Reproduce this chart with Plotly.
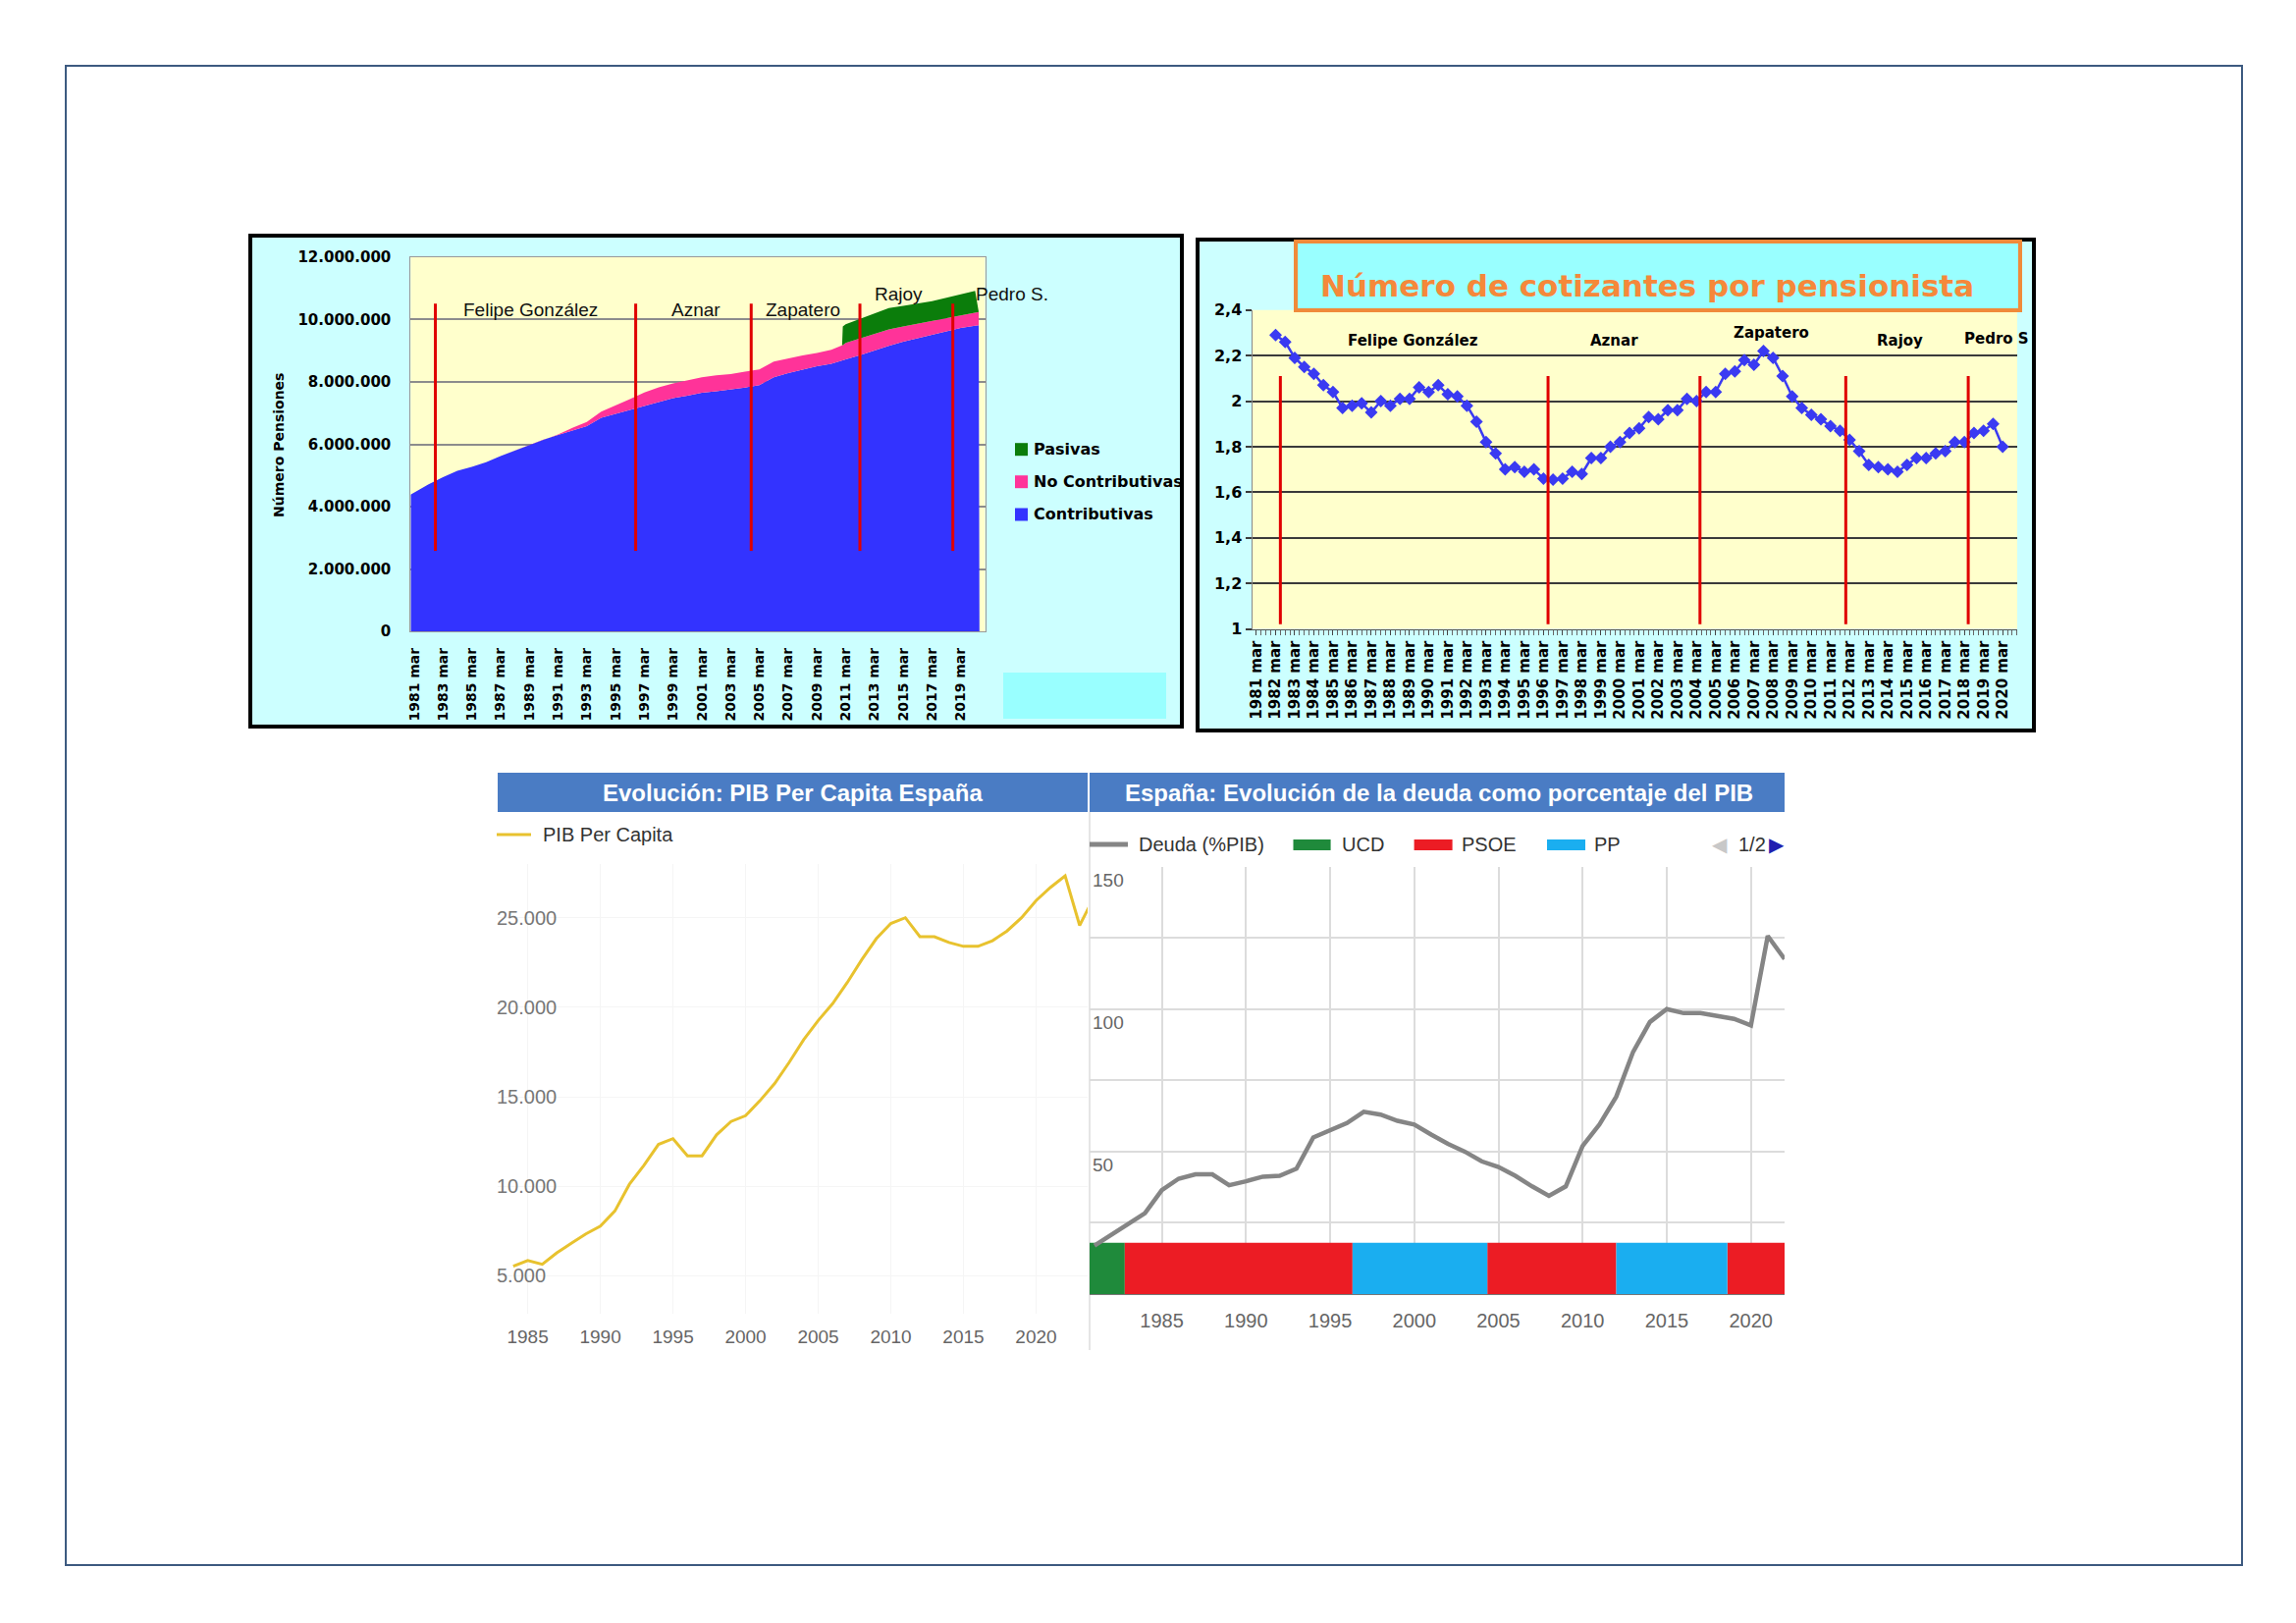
import plotly.graph_objects as go

W, H = 2339, 1653


def px(x):
    return x / W


def py(y):
    return 1 - y / H


# --- Numero de pensiones (millones)
anos_pens = [1980.75, 1982, 1983, 1984, 1985, 1986, 1987, 1988, 1989, 1990,
             1991, 1992, 1993, 1994, 1995, 1996, 1997, 1998, 1999, 2000,
             2001, 2002, 2003, 2004, 2005, 2006, 2007, 2008, 2009, 2010,
             2010.75, 2010.8, 2011, 2012, 2013, 2014, 2015, 2016, 2017, 2018,
             2019, 2020, 2020.25, 2020.3]
contributivas = [4.39, 4.72, 4.95, 5.15, 5.28, 5.43, 5.62, 5.80, 5.98, 6.15,
                 6.30, 6.45, 6.58, 6.85, 6.98, 7.10, 7.24, 7.37, 7.48, 7.56,
                 7.65, 7.70, 7.75, 7.82, 7.90, 8.15, 8.28, 8.40, 8.50, 8.58,
                 8.67, 8.68, 8.72, 8.86, 9.02, 9.16, 9.29, 9.41, 9.51, 9.62,
                 9.73, 9.80, 9.82, 0]
no_contributivas = [0, 0, 0, 0, 0, 0, 0, 0, 0, 0,
                    0.02, 0.08, 0.14, 0.20, 0.26, 0.35, 0.42, 0.46, 0.47, 0.49,
                    0.50, 0.51, 0.50, 0.51, 0.50, 0.50, 0.48, 0.45, 0.43, 0.45,
                    0.50, 0.50, 0.53, 0.53, 0.53, 0.52, 0.49, 0.46, 0.44, 0.42,
                    0.42, 0.42, 0.42, 0]
pasivas = [0, 0, 0, 0, 0, 0, 0, 0, 0, 0,
           0, 0, 0, 0, 0, 0, 0, 0, 0, 0,
           0, 0, 0, 0, 0, 0, 0, 0, 0, 0,
           0, 0.60, 0.60, 0.63, 0.65, 0.69, 0.66, 0.65, 0.64, 0.66,
           0.67, 0.70, 0, 0]
ticks_pens = list(range(1981, 2020, 2))
ticks_millones = [0, 2, 4, 6, 8, 10, 12]
etiquetas_millones = ["0", "2.000.000", "4.000.000", "6.000.000", "8.000.000",
                      "10.000.000", "12.000.000"]
cambios_pens = [1982.47, 1996.4, 2004.43, 2011.99, 2018.45]
presidentes_pens = [("Felipe González", 1989.1, 10.3), ("Aznar", 2000.6, 10.3),
                    ("Zapatero", 2008.0, 10.3), ("Rajoy", 2014.65, 10.83)]

# --- Cotizantes por pensionista (semestral desde 1982)
cotizantes = [2.29, 2.26, 2.19, 2.15, 2.12, 2.07, 2.04, 1.97, 1.98, 1.99,
              1.95, 2.00, 1.98, 2.01, 2.01, 2.06, 2.04, 2.07, 2.03, 2.02,
              1.98, 1.91, 1.82, 1.77, 1.70, 1.71, 1.69, 1.70, 1.66, 1.655,
              1.66, 1.69, 1.68, 1.75, 1.75, 1.80, 1.82, 1.86, 1.88, 1.93,
              1.92, 1.96, 1.96, 2.01, 2.00, 2.04, 2.04, 2.12, 2.13, 2.18,
              2.16, 2.22, 2.19, 2.11, 2.02, 1.97, 1.94, 1.92, 1.89, 1.87,
              1.83, 1.78, 1.72, 1.71, 1.70, 1.69, 1.72, 1.75, 1.75, 1.77,
              1.78, 1.82, 1.82, 1.86, 1.87, 1.90, 1.80]
periodos = [1982 + 0.5 * i for i in range(len(cotizantes))]
ticks_cotiz = list(range(1981, 2021))
ticks_ratio = [1, 1.2, 1.4, 1.6, 1.8, 2, 2.2, 2.4]
etiquetas_ratio = ["1", "1,2", "1,4", "1,6", "1,8", "2", "2,2", "2,4"]
cambios_cotiz = [1982.25, 1996.24, 2004.18, 2011.8, 2018.2]
presidentes_cotiz = [("Felipe González", 1989.16, 2.265), ("Aznar", 1999.7, 2.265),
                     ("Zapatero", 2007.9, 2.30), ("Rajoy", 2014.65, 2.265)]

# --- PIB per capita
anos_pib = list(range(1984, 2025))
pib_per_capita = [5530, 5850, 5640, 6280, 6810, 7340, 7770, 8620, 10110, 11170,
                  12340, 12660, 11700, 11700, 12870, 13620, 13940, 14790, 15740, 16920,
                  18190, 19260, 20210, 21380, 22660, 23830, 24680, 25000, 23940, 23940,
                  23620, 23400, 23400, 23720, 24260, 25000, 25960, 26700, 27340, 24570,
                  26170]
ticks_pib = [5000, 10000, 15000, 20000, 25000]
etiquetas_pib = ["5.000", "10.000", "15.000", "20.000", "25.000"]
ticks_anos = [1985, 1990, 1995, 2000, 2005, 2010, 2015, 2020]

# --- Deuda (%PIB)
anos_deuda = list(range(1981, 2023))
deuda = [17, 21, 24.6, 28.4, 36.5, 40.5, 42, 42, 38.2, 39.6,
         41.2, 41.5, 44, 55, 57.7, 60, 64, 63, 60.8, 59.5,
         56, 52.7, 50, 46.6, 44.6, 41.5, 37.8, 34.5, 37.8, 52,
         59.5, 69.3, 85, 95.5, 100, 98.6, 98.6, 97.7, 96.6, 94.3,
         125.7, 117.6]
partidos = ["UCD", "PSOE", "PP", "PSOE", "PP", "PSOE"]
inicio_gob = [1979, 1982.8, 1996.33, 2004.34, 2012.0, 2018.6]
fin_gob = [1982.8, 1996.33, 2004.34, 2012.0, 2018.6, 2024]
colores_partido = {"UCD": "#1f8a3b", "PSOE": "#ec1c24", "PP": "#1aaef0"}

AZUL, ROSA, VERDE = "#3333ff", "#ff3399", "#0b7d0b"
BOLD = dict(family="DejaVu Sans", color="black", weight="bold")
ARIAL = "Liberation Sans, Arial"

fig = go.Figure()

# grafico 1: areas apiladas
for nombre, serie, color in [("Contributivas", contributivas, AZUL),
                             ("No Contributivas", no_contributivas, ROSA),
                             ("Pasivas", pasivas, VERDE)]:
    fig.add_trace(go.Scatter(x=anos_pens, y=serie, name=nombre, stackgroup="pens",
                             mode="lines", line=dict(width=0), fillcolor=color,
                             xaxis="x", yaxis="y"))

# grafico 2: cotizantes por pensionista
fig.add_trace(go.Scatter(x=periodos, y=cotizantes, mode="lines+markers",
                         line=dict(color="#3a3af2", width=2.5),
                         marker=dict(symbol="diamond", size=10, color="#3a3af2"),
                         xaxis="x2", yaxis="y2"))

# grafico 3: PIB
fig.add_trace(go.Scatter(x=anos_pib, y=pib_per_capita, mode="lines",
                         line=dict(color="#e8c22e", width=3),
                         xaxis="x3", yaxis="y3"))
# eje solo para las etiquetas de PIB (alineadas a la izquierda dentro del grafico)
fig.add_trace(go.Scatter(x=[], y=[], xaxis="x3", yaxis="y5"))

# grafico 4: deuda + franja de gobiernos
fig.add_trace(go.Scatter(x=anos_deuda, y=deuda, mode="lines",
                         line=dict(color="#858585", width=4.5),
                         xaxis="x4", yaxis="y4"))
for partido in ["UCD", "PSOE", "PP"]:
    idx = [i for i, p in enumerate(partidos) if p == partido]
    fig.add_trace(go.Bar(y=[9] * len(idx), width=18, orientation="h",
                         base=[inicio_gob[i] for i in idx],
                         x=[fin_gob[i] - inicio_gob[i] for i in idx],
                         marker=dict(color=colores_partido[partido], line=dict(width=0)),
                         xaxis="x4", yaxis="y4"))

shapes = []


def rect(x0, y0, x1, y1, fill=None, line=None, lw=0, layer="below"):
    shapes.append(dict(type="rect", xref="paper", yref="paper", layer=layer,
                       x0=px(x0), x1=px(x1), y0=py(y1), y1=py(y0),
                       fillcolor=fill or "rgba(0,0,0,0)",
                       line=dict(color=line or "rgba(0,0,0,0)", width=lw)))


def linea(x0, y0, x1, y1, color, lw):
    shapes.append(dict(type="line", xref="paper", yref="paper", layer="below",
                       x0=px(x0), x1=px(x1), y0=py(y0), y1=py(y1),
                       line=dict(color=color, width=lw)))


rect(67, 67, 2284, 1594, line="#3d5a80", lw=2)
# marco grafico 1
rect(255, 240, 1204, 740, fill="#ccffff", line="black", lw=4)
rect(418.3, 261.9, 1003.5, 643.2, fill="#ffffcc")
rect(1022, 685, 1188, 732, fill="#99ffff")
# marco grafico 2
rect(1220, 244, 2072, 744, fill="#ccffff", line="black", lw=4)
rect(1275.5, 315.7, 2055, 640.5, fill="#ffffcc")
rect(1320, 246, 2058, 316, fill="#99ffff", line="#f08a3a", lw=4)
# barras de titulo 3 y 4
rect(507, 787, 1108, 827, fill="#4a7cc4")
rect(1110, 787, 1818, 827, fill="#4a7cc4")
linea(1110, 827, 1110, 1375, "#dddddd", 1.5)

for c in cambios_pens:
    shapes.append(dict(type="line", xref="x", yref="y", x0=c, x1=c, y0=2.59, y1=10.51,
                       layer="above", line=dict(color="#e00000", width=3)))
for c in cambios_cotiz:
    shapes.append(dict(type="line", xref="x2", yref="y2", x0=c, x1=c, y0=1.02, y1=2.11,
                       layer="above", line=dict(color="#e00000", width=3)))

# claves de leyenda
for yc, color in [(457.7, VERDE), (490.7, ROSA), (524, AZUL)]:
    rect(1034, yc - 6.5, 1047, yc + 6.5, fill=color)
linea(506, 850, 541, 850, "#e8c22e", 3)
linea(1110, 860, 1149, 860, "#858585", 5)
rect(1317.5, 855, 1355.6, 866, fill=colores_partido["UCD"])
rect(1440.6, 855, 1479.6, 866, fill=colores_partido["PSOE"])
rect(1576, 855, 1615, 866, fill=colores_partido["PP"])

ann = []


def texto(x, y, s, font, xanchor="center", xref="paper", yref="paper", angle=0):
    if xref == "paper":
        x = px(x)
    if yref == "paper":
        y = py(y)
    ann.append(dict(x=x, y=y, xref=xref, yref=yref, text=s, showarrow=False,
                    xanchor=xanchor, yanchor="middle", font=font, textangle=angle))


for nombre, xa, ya in presidentes_pens:
    texto(xa, ya, nombre, dict(family=ARIAL, size=19, color="#111"), xref="x", yref="y")
texto(1031, 299, "Pedro S.", dict(family=ARIAL, size=19, color="#111"))
texto(284, 454, "Número Pensiones", dict(BOLD, size=14), angle=-90)
for yc, nombre in [(457.7, "Pasivas"), (490.7, "No Contributivas"), (524, "Contributivas")]:
    texto(1051, yc, nombre, dict(BOLD, size=16), xanchor="left")

for nombre, xa, ya in presidentes_cotiz:
    texto(xa, ya, nombre, dict(BOLD, size=15), xref="x2", yref="y2")
texto(1999, 345, "Pedro S", dict(BOLD, size=15), xanchor="left")
texto(1678, 291, "Número de cotizantes por pensionista",
      dict(family="DejaVu Sans", size=31, color="#f5883a", weight="bold"))

texto(807.5, 807, "Evolución: PIB Per Capita España",
      dict(family=ARIAL, size=24, color="white", weight="bold"))
texto(1466, 807, "España: Evolución de la deuda como porcentaje del PIB",
      dict(family=ARIAL, size=24, color="white", weight="bold"))
texto(551, 850, "PIB Per Capita", dict(family=ARIAL, size=20, color="#333"), xanchor="left")
leyenda = dict(family=ARIAL, size=20, color="#333")
texto(1158, 860, "Deuda (%PIB)", leyenda, xanchor="left")
texto(1365, 860, "UCD", leyenda, xanchor="left")
texto(1486.5, 860, "PSOE", leyenda, xanchor="left")
texto(1622, 860, "PP", leyenda, xanchor="left")
texto(1752, 860, "◀", dict(family="DejaVu Sans", size=20, color="#c8c8c8"))
texto(1769, 860, "1/2", leyenda, xanchor="left")
texto(1810, 860, "▶", dict(family="DejaVu Sans", size=20, color="#1f1fb0"))

clear = "rgba(0,0,0,0)"

fig.update_layout(
    width=W, height=H, margin=dict(l=0, r=0, t=0, b=0),
    template="none", paper_bgcolor="white", plot_bgcolor=clear,
    showlegend=False, hovermode=False, barmode="overlay",
    shapes=shapes, annotations=ann,
    xaxis=dict(domain=[px(418.3), px(1003.5)], range=[1980.75, 2020.69], anchor="y",
               tickmode="array", tickvals=ticks_pens,
               ticktext=[f"{a} mar" for a in ticks_pens], tickangle=-90,
               tickfont=dict(BOLD, size=14), ticks="outside", ticklen=10,
               tickcolor=clear, showgrid=False, zeroline=False,
               showline=True, linecolor="#999", mirror=True),
    yaxis=dict(domain=[py(643.2), py(261.9)], range=[0, 12], anchor="x",
               tickmode="array", tickvals=ticks_millones, ticktext=etiquetas_millones,
               tickfont=dict(BOLD, size=15), ticks="outside", ticklen=16,
               tickcolor=clear, showgrid=True, gridcolor="#8c8c8c", gridwidth=1.5,
               zeroline=False, showline=True, linecolor="#999", mirror=True),
    xaxis2=dict(domain=[px(1275.5), px(2055)], range=[1980.77, 2020.76], anchor="y2",
                tickmode="array", tickvals=ticks_cotiz,
                ticktext=[f"{a} mar" for a in ticks_cotiz], tickangle=-90,
                tickfont=dict(BOLD, size=15), ticks="outside", ticklen=5,
                tickcolor="#444", minor=dict(dtick=0.25, tick0=1981, ticks="outside",
                                             ticklen=5, tickcolor="#666"),
                showgrid=False, zeroline=False, showline=True, linecolor="#555"),
    yaxis2=dict(domain=[py(640.5), py(315.7)], range=[1, 2.4], anchor="x2",
                tickmode="array", tickvals=ticks_ratio, ticktext=etiquetas_ratio,
                tickfont=dict(BOLD, size=16), ticks="outside", ticklen=6,
                tickcolor="#3a3a3a", tickwidth=2, showgrid=True, gridcolor="#3a3a3a",
                gridwidth=2, zeroline=False, showline=True, linecolor="#888"),
    xaxis3=dict(domain=[px(507), px(1108)], range=[1982.93, 2023.55], anchor="y3",
                tickmode="array", tickvals=ticks_anos,
                tickfont=dict(family=ARIAL, size=19, color="#666"), ticks="outside",
                ticklen=6, tickcolor=clear, showgrid=True, gridcolor="#f5f5f5",
                zeroline=False, showline=False),
    yaxis3=dict(domain=[py(1338), py(880)], range=[2880, 28000], anchor="x3",
                tickmode="array", tickvals=ticks_pib, showticklabels=False,
                showgrid=True, gridcolor="#f5f5f5", zeroline=False, showline=False),
    yaxis5=dict(overlaying="y3", anchor="free", position=px(505), side="right",
                range=[2880, 28000], tickmode="array", tickvals=ticks_pib,
                ticktext=etiquetas_pib, tickfont=dict(family=ARIAL, size=20, color="#777"),
                ticks="", showgrid=False, zeroline=False, showline=False),
    xaxis4=dict(domain=[px(1110), px(1818)], range=[1980.71, 2022.0], anchor="y4",
                tickmode="array", tickvals=ticks_anos,
                tickfont=dict(family=ARIAL, size=20, color="#666"), ticks="outside",
                ticklen=9, tickcolor=clear, showgrid=True, gridcolor="#dcdcdc",
                gridwidth=1.5, zeroline=False, showline=True, linecolor="#777"),
    yaxis4=dict(domain=[py(1318), py(882.7)], range=[0, 150], anchor="x4",
                tickmode="array", tickvals=[0, 25, 50, 75, 100, 125, 150],
                ticktext=["", "", "50", "", "100", "", "150"],
                ticklabelposition="inside bottom", tickfont=dict(family=ARIAL, size=19, color="#666"),
                showgrid=True, gridcolor="#dcdcdc", gridwidth=1.5, zeroline=False,
                showline=False),
)

fig.write_html("out.html", config={"displayModeBar": False},
               post_script="document.body.style.margin='0px';")
